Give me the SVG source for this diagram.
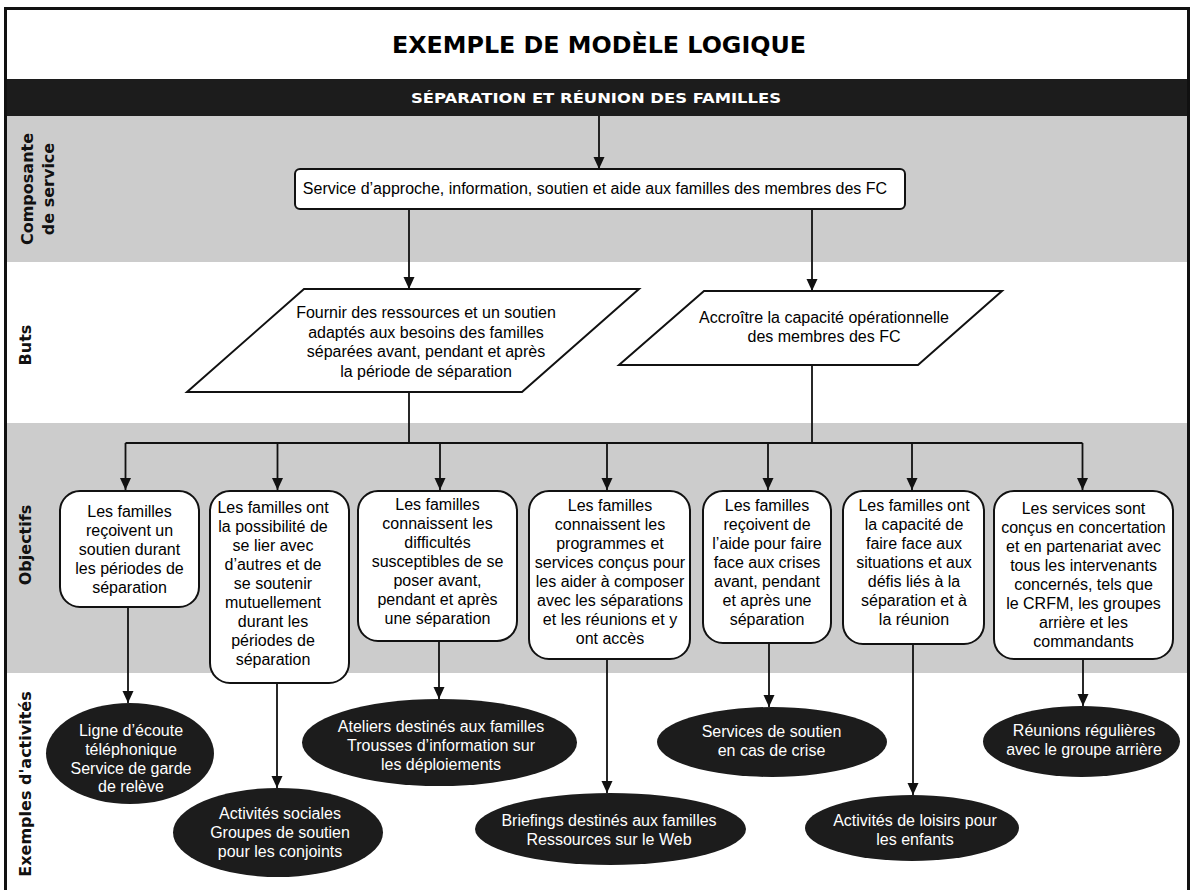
<svg xmlns="http://www.w3.org/2000/svg" width="1191" height="890" viewBox="0 0 1191 890">
<defs>
<style>
.t{font-family:"Liberation Sans",Arial,sans-serif;font-size:16px;fill:#000;text-anchor:middle}
.w{fill:#fff}
.lbl{font-family:"DejaVu Sans",Verdana,sans-serif;font-weight:bold;font-size:16px;text-anchor:middle;fill:#111}
.hd{font-family:"DejaVu Sans",Verdana,sans-serif;font-weight:bold;text-anchor:middle}
.box{fill:#fff;stroke:#111;stroke-width:2}
.ell{fill:#1c1c1c}
.ln{stroke:#111;stroke-width:1.8;fill:none}
.ar{marker-end:url(#ah)}
</style>
<marker id="ah" markerUnits="userSpaceOnUse" markerWidth="12" markerHeight="12" refX="12" refY="6" orient="auto" viewBox="0 0 12 12">
<path d="M0,0.5 L12,6 L0,11.5 z" fill="#111"/>
</marker>
</defs>

<g id="bands">
<rect x="0" y="0" width="1191" height="890" fill="#fff"/>
<rect x="7" y="79" width="1181" height="37" fill="#1c1c1c"/>
<rect x="7" y="116" width="1181" height="146" fill="#cccccc"/>
<rect x="7" y="423" width="1181" height="250" fill="#cccccc"/>
<rect x="5.5" y="8.5" width="1183" height="900" fill="none" stroke="#111" stroke-width="3"/>
</g>

<g id="title">
<text class="hd" x="599" y="53" font-size="23" textLength="414" lengthAdjust="spacingAndGlyphs" fill="#000">EXEMPLE DE MODÈLE LOGIQUE</text>
<text class="hd" x="596" y="103" font-size="14" textLength="370" lengthAdjust="spacingAndGlyphs" fill="#fff">SÉPARATION ET RÉUNION DES FAMILLES</text>
</g>

<g id="row-labels">
<text class="lbl" transform="translate(33,189) rotate(-90)">Composante</text>
<text class="lbl" transform="translate(54,189) rotate(-90)">de service</text>
<text class="lbl" transform="translate(30.7,345) rotate(-90)">Buts</text>
<text class="lbl" transform="translate(30.5,545) rotate(-90)">Objectifs</text>
<text class="lbl" transform="translate(30.5,784) rotate(-90)">Exemples d'activités</text>
</g>

<g id="connectors">
<path class="ln ar" d="M599,116 V169"/>
<path class="ln ar" d="M409,209 V289"/>
<path class="ln ar" d="M812,209 V291"/>
<path class="ln" d="M409,392 V443"/>
<path class="ln" d="M812,365 V443"/>
<path class="ln" d="M125.5,443 H1082.5"/>
<path class="ln ar" d="M125.5,443 V490"/>
<path class="ln ar" d="M277.5,443 V490"/>
<path class="ln ar" d="M440,443 V490"/>
<path class="ln ar" d="M607,443 V490"/>
<path class="ln ar" d="M768,443 V490"/>
<path class="ln ar" d="M912,443 V490"/>
<path class="ln ar" d="M1082.5,443 V490"/>
<path class="ln ar" d="M128,607 V703"/>
<path class="ln ar" d="M277,683 V788"/>
<path class="ln ar" d="M439,641 V699"/>
<path class="ln ar" d="M607,659 V793"/>
<path class="ln ar" d="M769,643 V707"/>
<path class="ln ar" d="M913,644 V795"/>
<path class="ln ar" d="M1083,659 V706"/>
</g>

<g id="service">
<rect class="box" x="295" y="169" width="610" height="40" rx="5"/>
<text class="t" x="595" y="194">Service d’approche, information, soutien et aide aux familles des membres des FC</text>
</g>

<g id="but1">
<polygon class="box" points="304,289 639,289 522,392 187,392"/>
<text class="t" x="426"><tspan x="426" y="318">Fournir des ressources et un soutien</tspan><tspan x="426" y="337.5">adaptés aux besoins des familles</tspan><tspan x="426" y="357">séparées avant, pendant et après</tspan><tspan x="426" y="376.5">la période de séparation</tspan></text>
</g>

<g id="but2">
<polygon class="box" points="704,291 1002,291 918,365 619,365"/>
<text class="t"><tspan x="824" y="323">Accroître la capacité opérationnelle</tspan><tspan x="824" y="342">des membres des FC</tspan></text>
</g>

<g id="obj1">
<rect class="box" x="60" y="491" width="139" height="116" rx="20"/>
<text class="t"><tspan x="129.5" y="517">Les familles</tspan><tspan x="129.5" y="536">reçoivent un</tspan><tspan x="129.5" y="555">soutien durant</tspan><tspan x="129.5" y="574">les périodes de</tspan><tspan x="129.5" y="593">séparation</tspan></text>
</g>

<g id="obj2">
<rect class="box" x="210" y="491" width="139" height="192" rx="20"/>
<text class="t"><tspan x="273" y="513">Les familles ont</tspan><tspan x="273" y="532">la possibilité de</tspan><tspan x="273" y="551">se lier avec</tspan><tspan x="273" y="570">d’autres et de</tspan><tspan x="273" y="589">se soutenir</tspan><tspan x="273" y="608">mutuellement</tspan><tspan x="273" y="627">durant les</tspan><tspan x="273" y="646">périodes de</tspan><tspan x="273" y="665">séparation</tspan></text>
</g>

<g id="obj3">
<rect class="box" x="358" y="491" width="159" height="150" rx="20"/>
<text class="t"><tspan x="437.5" y="510">Les familles</tspan><tspan x="437.5" y="529">connaissent les</tspan><tspan x="437.5" y="548">difficultés</tspan><tspan x="437.5" y="567">susceptibles de se</tspan><tspan x="437.5" y="586">poser avant,</tspan><tspan x="437.5" y="605">pendant et après</tspan><tspan x="437.5" y="624">une séparation</tspan></text>
</g>

<g id="obj4">
<rect class="box" x="529" y="491" width="161" height="168" rx="20"/>
<text class="t"><tspan x="610" y="511">Les familles</tspan><tspan x="610" y="530">connaissent les</tspan><tspan x="610" y="549">programmes et</tspan><tspan x="610" y="568">services conçus pour</tspan><tspan x="610" y="587">les aider à composer</tspan><tspan x="610" y="606">avec les séparations</tspan><tspan x="610" y="625">et les réunions et y</tspan><tspan x="610" y="644">ont accès</tspan></text>
</g>

<g id="obj5">
<rect class="box" x="703" y="491" width="128" height="152" rx="20"/>
<text class="t"><tspan x="767" y="511">Les familles</tspan><tspan x="767" y="530">reçoivent de</tspan><tspan x="767" y="549">l’aide pour faire</tspan><tspan x="767" y="568">face aux crises</tspan><tspan x="767" y="587">avant, pendant</tspan><tspan x="767" y="606">et après une</tspan><tspan x="767" y="625">séparation</tspan></text>
</g>

<g id="obj6">
<rect class="box" x="843" y="491" width="141" height="153" rx="20"/>
<text class="t"><tspan x="914" y="511">Les familles ont</tspan><tspan x="914" y="530">la capacité de</tspan><tspan x="914" y="549">faire face aux</tspan><tspan x="914" y="568">situations et aux</tspan><tspan x="914" y="587">défis liés à la</tspan><tspan x="914" y="606">séparation et à</tspan><tspan x="914" y="625">la réunion</tspan></text>
</g>

<g id="obj7">
<rect class="box" x="994" y="491" width="179" height="168" rx="20"/>
<text class="t"><tspan x="1083.5" y="514">Les services sont</tspan><tspan x="1083.5" y="533">conçus en concertation</tspan><tspan x="1083.5" y="552">et en partenariat avec</tspan><tspan x="1083.5" y="571">tous les intervenants</tspan><tspan x="1083.5" y="590">concernés, tels que</tspan><tspan x="1083.5" y="609">le CRFM, les groupes</tspan><tspan x="1083.5" y="628">arrière et les</tspan><tspan x="1083.5" y="647">commandants</tspan></text>
</g>

<g id="act1">
<ellipse class="ell" cx="130" cy="753.5" rx="84" ry="50.5"/>
<text class="t w"><tspan x="131" y="736">Ligne d’écoute</tspan><tspan x="131" y="755">téléphonique</tspan><tspan x="131" y="773.5">Service de garde</tspan><tspan x="131" y="792">de relève</tspan></text>
</g>

<g id="act2">
<ellipse class="ell" cx="278" cy="832.5" rx="105" ry="44.5"/>
<text class="t w"><tspan x="280" y="819">Activités sociales</tspan><tspan x="280" y="838">Groupes de soutien</tspan><tspan x="280" y="857">pour les conjoints</tspan></text>
</g>

<g id="act3">
<ellipse class="ell" cx="439.5" cy="742.5" rx="137.5" ry="43.5"/>
<text class="t w"><tspan x="441" y="732">Ateliers destinés aux familles</tspan><tspan x="441" y="751">Trousses d’information sur</tspan><tspan x="441" y="769.5">les déploiements</tspan></text>
</g>

<g id="act4">
<ellipse class="ell" cx="610.5" cy="829" rx="135.5" ry="36"/>
<text class="t w"><tspan x="609" y="826">Briefings destinés aux familles</tspan><tspan x="609" y="844.5">Ressources sur le Web</tspan></text>
</g>

<g id="act5">
<ellipse class="ell" cx="772" cy="742" rx="115" ry="35"/>
<text class="t w"><tspan x="771.5" y="737">Services de soutien</tspan><tspan x="771.5" y="756">en cas de crise</tspan></text>
</g>

<g id="act6">
<ellipse class="ell" cx="912" cy="828" rx="107" ry="33"/>
<text class="t w"><tspan x="915" y="826">Activités de loisirs pour</tspan><tspan x="915" y="844.5">les enfants</tspan></text>
</g>

<g id="act7">
<ellipse class="ell" cx="1081.5" cy="741.5" rx="98.5" ry="35.5"/>
<text class="t w"><tspan x="1084" y="736">Réunions régulières</tspan><tspan x="1084" y="755">avec le groupe arrière</tspan></text>
</g>
</svg>
